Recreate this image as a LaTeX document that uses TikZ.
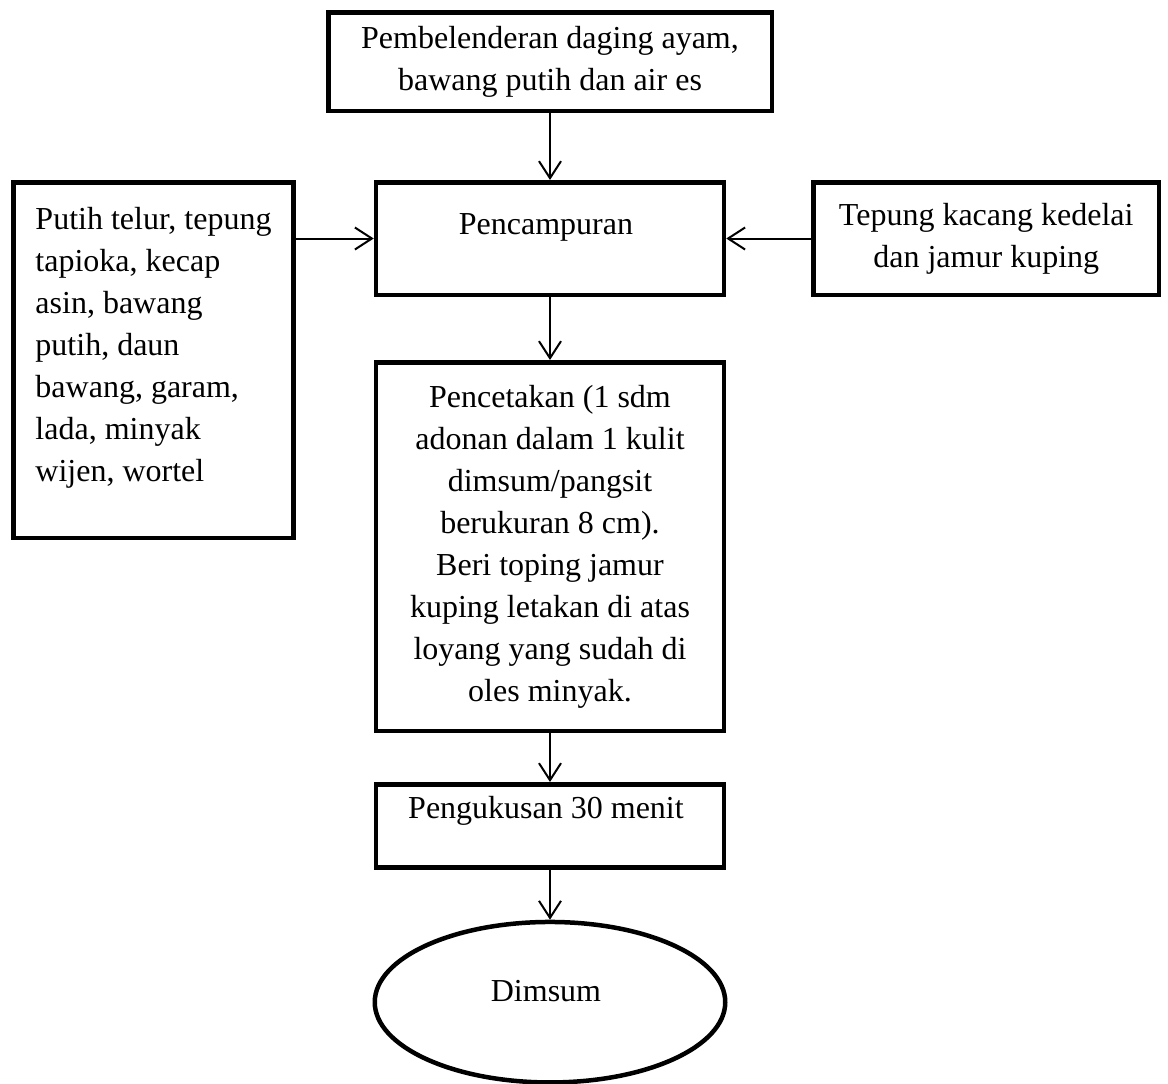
\documentclass[tikz,border=0pt]{standalone}
\usepackage{fontspec}
\setmainfont{Liberation Serif}
\usepackage{tikz}
\usetikzlibrary{arrows.meta,positioning,shapes.geometric}
\tikzset{
  flowbox/.style={
    draw=black,
    line width=2.25pt,
    align=center,
    font=\fontsize{16}{21}\selectfont,
    minimum width=174pt,
    inner sep=6pt
  },
  flowbox2/.style={
    flowbox,
    align=left,
    minimum width=140pt
  },
  flowend/.style={
    flowbox,
    ellipse,
    minimum width=175.25pt,
    minimum height=80.25pt
  },
  flowarrow/.style={
    -{Straight Barb[length=8.5pt,width=11pt]},
    line width=1pt,
    draw=black
  }
}

\begin{document}
\begin{tikzpicture}[node distance=30pt]
    \useasboundingbox (0,0) rectangle (584pt,-541.5pt);

    \node[flowbox, minimum width=221.75pt, minimum height=49.25pt] (blend) at (275pt,-30.75pt) {
        Pembelenderan daging ayam,\\
        bawang putih dan air es
    };
    \node[flowbox, minimum height=56.25pt, text depth=14.5pt, below=33.5pt of blend] (mix) {
        Pencampuran
    };
    \node[flowbox2, minimum height=177.75pt, text depth=16pt, left=39pt of mix.north west, anchor=north east] (extra) {
        Putih telur, tepung\\
        tapioka, kecap\\
        asin, bawang\\
        putih, daun\\
        bawang, garam,\\
        lada, minyak\\
        wijen, wortel
    };
    \node[flowbox, minimum width=172.75pt, minimum height=56.25pt, right=42.5pt of mix] (soy) {
        Tepung kacang kedelai\\
        dan jamur kuping
    };
    \node[flowbox, minimum height=184.25pt, below=31.5pt of mix] (mold) {
        Pencetakan (1 sdm\\
        adonan dalam 1 kulit\\
        dimsum/pangsit\\
        berukuran 8 cm).\\
        Beri toping jamur\\
        kuping letakan di atas\\
        loyang yang sudah di\\
        oles minyak.
    };
    \node[flowbox, minimum height=38.25pt, text depth=18.5pt, below=24.5pt of mold] (steam) {
        Pengukusan 30 menit
    };
    \node[flowend, text depth=11.5pt, below=25pt of steam] (dimsum) {
        Dimsum
    };

    \draw[flowarrow] (blend) -- (mix);
    \draw[flowarrow] (extra.east |- mix.west) -- (mix.west);
    \draw[flowarrow] (soy) -- (mix);
    \draw[flowarrow] (mix) -- (mold);
    \draw[flowarrow] (mold) -- (steam);
    \draw[flowarrow] (steam) -- (dimsum);
\end{tikzpicture}
\end{document}
